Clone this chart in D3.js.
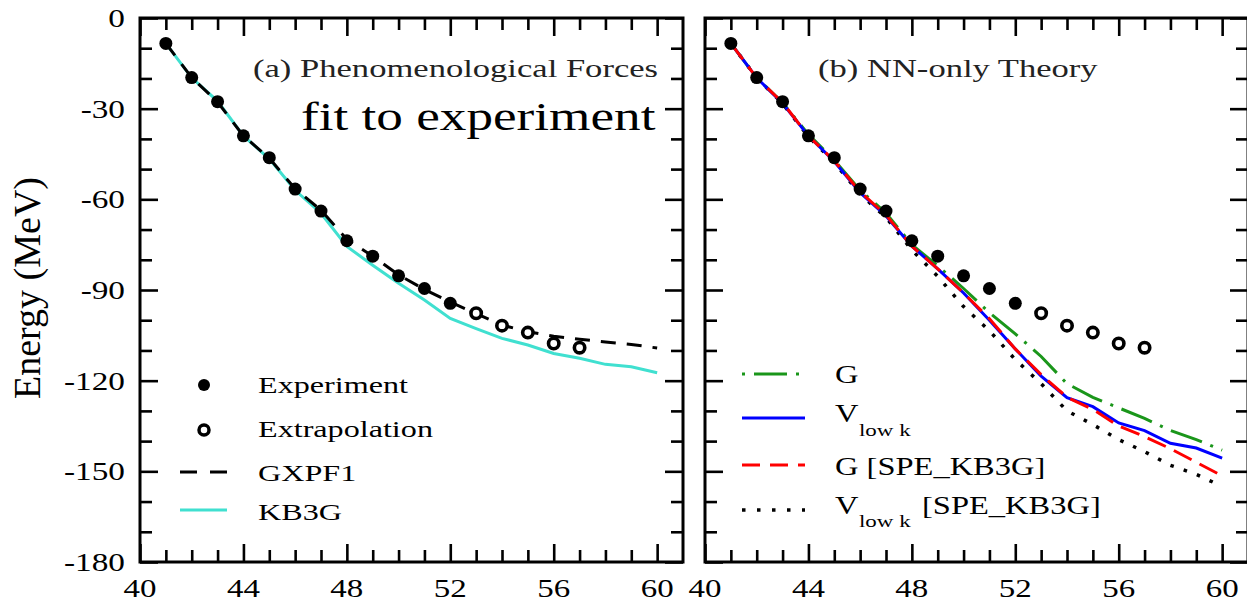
<!DOCTYPE html>
<html>
<head>
<meta charset="utf-8">
<script src="https://cdn.jsdelivr.net/npm/d3@7"></script>
<style>
    body { margin: 0; background: #fff; }
    svg { display: block; font-family: "Liberation Serif", "Times New Roman", serif; }
</style>
</head>
<body>
<div id="chart"></div>
<script>
(function () {
    'use strict';

    // mass number A on the x axis, energies in MeV
    var massNumbers = [41, 42, 43, 44, 45, 46, 47, 48, 49, 50, 51, 52, 53, 54, 55, 56, 57, 58, 59, 60];

    var expMass = [41, 42, 43, 44, 45, 46, 47, 48, 49, 50, 51, 52];
    var expEnergy = [-8.4, -19.7, -27.7, -39.0, -46.2, -56.6, -63.9, -73.7, -78.8, -85.3, -89.5, -94.4];

    var extMass = [53, 54, 55, 56, 57];
    var extEnergy = [-97.7, -101.8, -104.1, -107.7, -109.1];

    // (a) phenomenological forces
    var gxpf1 = [-8.4, -19.7, -27.8, -39.0, -46.4, -56.5, -63.6, -73.3, -78.8, -85.0,
                 -89.8, -94.0, -97.8, -101.6, -103.8, -105.3, -106.3, -107.2, -108.0, -109.2];
    var kb3g = [-8.4, -19.8, -27.5, -39.0, -46.6, -57.0, -64.6, -75.6, -81.8, -87.8,
                -93.3, -99.4, -102.8, -106.0, -108.2, -111.0, -112.6, -114.6, -115.4, -117.4];

    // (b) NN-only theory
    var gMatrix = [-8.4, -19.8, -28.0, -38.5, -47.0, -57.0, -64.5, -75.0, -82.0, -89.5,
                   -97.5, -104.5, -112.0, -121.0, -125.5, -129.0, -132.5, -136.5, -139.5, -143.0];
    var vLowK = [-8.4, -19.8, -28.2, -39.0, -47.5, -57.8, -65.5, -75.5, -83.0, -91.0,
                 -100.0, -109.5, -118.5, -125.6, -128.6, -134.0, -136.5, -140.7, -142.3, -145.6];
    var gSpeKb3g = [-8.4, -19.8, -28.0, -39.0, -47.3, -57.5, -65.2, -75.5, -83.0, -91.0,
                    -99.5, -109.5, -118.0, -125.5, -129.5, -135.0, -138.5, -142.5, -147.0, -151.5];
    var vLowKSpeKb3g = [-8.4, -19.8, -28.3, -39.2, -47.8, -58.3, -66.0, -76.8, -85.5, -95.5,
                        -103.5, -113.0, -121.0, -130.0, -134.5, -139.5, -143.5, -148.0, -151.0, -155.0];

    var xMajorTicks = [40, 44, 48, 52, 56, 60];
    var yMajorTicks = [0, -30, -60, -90, -120, -150, -180];

    var width = 1247;
    var height = 604;
    var top = 18;
    var bottom = 562;

    var svg = d3.select('#chart').append('svg')
        .attr('width', width)
        .attr('height', height);

    var y = d3.scaleLinear().domain([-180, 0]).range([bottom, top]);
    var xLeft = d3.scaleLinear().domain([40, 61]).range([140, 683]);
    var xRight = d3.scaleLinear().domain([40, 61]).range([705, 1248]);

    var xMinor = d3.range(41, 61).filter(function (d) { return xMajorTicks.indexOf(d) < 0; });
    var yMinor = d3.range(-170, 0, 10).filter(function (d) { return yMajorTicks.indexOf(d) < 0; });

    // the original fonts are wide, so stretch glyphs sideways
    var place = function (x, yy, sx) {
        return 'translate(' + x + ',' + yy + ') scale(' + sx + ',1)';
    };

    var tickGroup = function (g, axis, transform) {
        var t = g.append('g')
            .attr('transform', transform)
            .call(axis);
        t.select('.domain').remove();
        t.selectAll('.tick line')
            .attr('stroke', '#000')
            .attr('stroke-width', 2.6);
        return t;
    };

    var drawFrame = function (x, showYLabels) {
        var g = svg.append('g');
        var x0 = x.range()[0], x1 = x.range()[1];

        [[xMinor, 12], [xMajorTicks, 18]].forEach(function (s) {
            tickGroup(g, d3.axisBottom(x).tickValues(s[0]).tickSize(-s[1]).tickFormat(''), 'translate(0,' + bottom + ')');
            tickGroup(g, d3.axisTop(x).tickValues(s[0]).tickSize(-s[1]).tickFormat(''), 'translate(0,' + top + ')');
        });
        [[yMinor, 12], [yMajorTicks, 18]].forEach(function (s) {
            tickGroup(g, d3.axisLeft(y).tickValues(s[0]).tickSize(-s[1]).tickFormat(''), 'translate(' + x0 + ',0)');
            tickGroup(g, d3.axisRight(y).tickValues(s[0]).tickSize(-s[1]).tickFormat(''), 'translate(' + x1 + ',0)');
        });

        // tick labels
        g.append('g').selectAll('text')
            .data(xMajorTicks)
            .enter().append('text')
            .attr('transform', function (d) { return place(x(d), 597, 1.32); })
            .attr('text-anchor', 'middle')
            .attr('font-size', 25)
            .text(function (d) { return String(d); });

        if (showYLabels) {
            g.append('g').selectAll('text')
                .data(yMajorTicks)
                .enter().append('text')
                .attr('transform', function (d) { return place(x0 - 15, y(d), 1.28); })
                .attr('dy', '0.34em')
                .attr('text-anchor', 'end')
                .attr('font-size', 26)
                .text(function (d) { return String(d); });
        }

        g.append('rect')
            .attr('x', x0)
            .attr('y', top)
            .attr('width', x1 - x0)
            .attr('height', bottom - top)
            .attr('fill', 'none')
            .attr('stroke', '#000')
            .attr('stroke-width', 3);
        return g;
    };

    var drawLine = function (x, values, color, dash, w) {
        var line = d3.line()
            .x(function (d, i) { return x(massNumbers[i]); })
            .y(function (d) { return y(d); });
        svg.append('path')
            .datum(values)
            .attr('d', line)
            .attr('fill', 'none')
            .attr('stroke', color)
            .attr('stroke-width', w || 3)
            .attr('stroke-dasharray', dash || null);
    };

    var drawPoints = function (x) {
        svg.append('g').selectAll('circle')
            .data(expMass)
            .enter().append('circle')
            .attr('cx', function (d) { return x(d); })
            .attr('cy', function (d, i) { return y(expEnergy[i]); })
            .attr('r', 6.5)
            .attr('fill', '#000');
        svg.append('g').selectAll('circle')
            .data(extMass)
            .enter().append('circle')
            .attr('cx', function (d) { return x(d); })
            .attr('cy', function (d, i) { return y(extEnergy[i]); })
            .attr('r', 5.2)
            .attr('fill', '#fff')
            .attr('stroke', '#000')
            .attr('stroke-width', 3.6);
    };

    var label = function (x, yy, str, size, sx, color) {
        return svg.append('text')
            .attr('transform', place(x, yy, sx))
            .attr('font-size', size)
            .attr('fill', color || '#000')
            .text(str);
    };

    var legendLine = function (x0, x1, yy, color, dash, w) {
        svg.append('line')
            .attr('x1', x0).attr('x2', x1)
            .attr('y1', yy).attr('y2', yy)
            .attr('stroke', color)
            .attr('stroke-width', w || 3)
            .attr('stroke-dasharray', dash || null);
    };

    // ---- panel (a)
    drawFrame(xLeft, true);
    drawLine(xLeft, kb3g, '#40e0d0', null, 3);
    drawLine(xLeft, gxpf1, '#000', '15,11', 3);
    drawPoints(xLeft);

    label(253, 77, '(a) Phenomenological Forces', 26, 1.33, '#222');
    label(301, 130, 'fit to experiment', 40, 1.33);

    svg.append('circle').attr('cx', 204).attr('cy', 385).attr('r', 6).attr('fill', '#000');
    label(258, 393, 'Experiment', 24, 1.34);
    svg.append('circle').attr('cx', 204).attr('cy', 430).attr('r', 5)
        .attr('fill', '#fff').attr('stroke', '#000').attr('stroke-width', 3.5);
    label(258, 437, 'Extrapolation', 24, 1.34);
    legendLine(180, 227, 472, '#000', '17,13');
    label(258, 481, 'GXPF1', 24, 1.34);
    legendLine(180, 227, 510, '#40e0d0');
    label(258, 520, 'KB3G', 24, 1.34);

    // ---- panel (b)
    drawFrame(xRight, false);
    drawLine(xRight, vLowKSpeKb3g, '#000', '3.5,10.5', 3.5);
    drawLine(xRight, gMatrix, '#1a961a', '33,9,3,9', 3);
    drawLine(xRight, vLowK, '#0000ff', null, 3);
    drawLine(xRight, gSpeKb3g, '#ff0000', '20,9', 3);
    drawPoints(xRight);

    label(818, 77, '(b) NN-only Theory', 26, 1.33, '#222');

    legendLine(742, 805, 374, '#1a961a', '3,9,33,9');
    label(835, 383, 'G', 25, 1.3);
    legendLine(742, 805, 418, '#0000ff');
    label(835, 422, 'V', 25, 1.3);
    label(859, 436, 'low k', 17, 1.35);
    legendLine(742, 805, 465, '#ff0000', '18,10');
    label(835, 475, 'G [SPE_KB3G]', 25, 1.3);
    legendLine(742, 805, 510, '#000', '3.5,11.5', 3.5);
    label(835, 514, 'V', 25, 1.3);
    label(859, 527, 'low k', 17, 1.35);
    label(922, 514, '[SPE_KB3G]', 25, 1.3);

    // y axis title
    svg.append('text')
        .attr('transform', 'translate(40,288) rotate(-90)')
        .attr('text-anchor', 'middle')
        .attr('font-size', 38)
        .text('Energy (MeV)');
})();
</script>
</body>
</html>
